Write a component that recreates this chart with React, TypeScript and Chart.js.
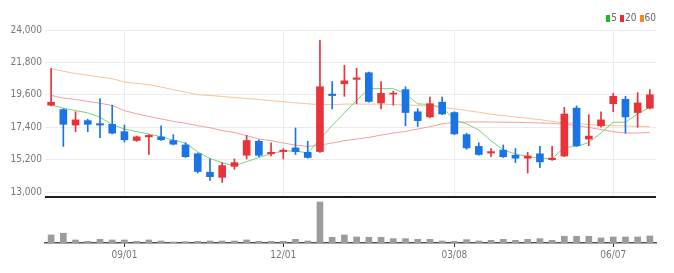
import React, { useEffect, useRef } from 'react';
import { Chart, registerables } from 'chart.js';

Chart.register(...registerables);

const DATES = [
  '07/21', '07/28', '08/04', '08/11', '08/18', '08/25', '09/01', '09/08', '09/15', '09/22',
  '09/29', '10/06', '10/13', '10/20', '10/27', '11/03', '11/10', '11/17', '11/24', '12/01',
  '12/08', '12/15', '12/22', '12/29', '01/05', '01/12', '01/19', '01/26', '02/02', '02/09',
  '02/16', '02/23', '03/01', '03/08', '03/15', '03/22', '03/29', '04/05', '04/12', '04/19',
  '04/26', '05/03', '05/10', '05/17', '05/24', '05/31', '06/07', '06/14', '06/21', '06/28',
];
const X_LABELS = ['09/01', '12/01', '03/08', '06/07'];
const Y_TICKS = [13000, 15200, 17400, 19600, 21800, 24000];

const OPEN = [
  18900, 18600, 17550, 17850, 17650, 17600, 17100, 16500, 16750, 16750,
  16500, 16200, 15600, 14350, 14000, 14750, 15500, 16450, 15600, 15750,
  16000, 15700, 15750, 19650, 20350, 20650, 21100, 19050, 19650, 19950,
  18450, 18100, 19100, 18400, 16900, 16100, 15650, 15850, 15500, 15300,
  15600, 15200, 15450, 18700, 16600, 17500, 19000, 19300, 18400, 18700,
];
const HIGH = [
  21400, 18650, 18450, 17950, 19350, 18900, 17550, 16800, 16900, 17500,
  16900, 16350, 15650, 15250, 15000, 15250, 16850, 16550, 16350, 15950,
  17350, 16450, 23300, 20500, 21600, 21400, 21150, 20500, 19850, 20150,
  18650, 19450, 19450, 18450, 17000, 16350, 15950, 16200, 15950, 15700,
  16100, 16100, 18750, 18850, 18250, 18450, 19700, 19500, 19750, 19950,
];
const LOW = [
  18850, 16100, 17100, 17100, 16700, 16950, 16400, 16450, 15550, 16500,
  16200, 15350, 14300, 13800, 13650, 14550, 15250, 15400, 15450, 15250,
  15550, 15300, 15700, 18650, 19500, 19000, 19100, 18650, 18900, 17500,
  17450, 18050, 18250, 16900, 15900, 15500, 15400, 15350, 15000, 14300,
  14650, 15150, 15400, 16100, 16150, 17400, 18450, 17000, 17400, 18650,
];
const CLOSE = [
  19100, 17600, 17900, 17600, 17550, 17000, 16550, 16750, 16850, 16550,
  16250, 15400, 14400, 14050, 14800, 15000, 16500, 15500, 15700, 15850,
  15750, 15350, 20150, 19550, 20550, 20750, 19150, 19700, 19700, 18400,
  17850, 19000, 18300, 16950, 16000, 15550, 15750, 15400, 15300, 15450,
  15050, 15300, 18300, 16150, 16800, 17900, 19500, 18100, 19050, 19600,
];
const VOLUME = [
  240, 290, 90, 50, 110, 90, 90, 50, 90, 60,
  30, 40, 50, 60, 60, 60, 90, 50, 50, 50,
  110, 60, 1220, 170, 240, 180, 170, 170, 130, 130,
  110, 110, 60, 50, 100, 60, 80, 110, 80, 110,
  130, 80, 200, 200, 200, 150, 180, 180, 180, 210,
];
const MA5 = [
  18920, 18690, 18530, 18380, 18080, 17580, 17280, 17100, 16940, 16760,
  16530, 16330, 15730, 15280, 15000, 14780, 15070, 15340, 15620, 15780,
  15800, 15650, 16600, 17510, 18380, 19220, 20020, 20020, 20020, 19680,
  18990, 18940, 18760, 17900, 17630, 17220, 16490, 15870, 15580, 15410,
  15300, 15280, 16030, 16100, 16370, 17010, 17740, 17740, 18310, 18760,
];
const MA20 = [
  19560, 19380, 19290, 19150, 19030, 18880, 18530, 18310, 18130, 17970,
  17800, 17670, 17510, 17370, 17170, 17050, 16830, 16600, 16490, 16330,
  16190, 16100, 16190, 16330, 16490, 16600, 16710, 16870, 17010, 17120,
  17280, 17440, 17630, 17740, 17760, 17760, 17760, 17740, 17740, 17710,
  17690, 17670, 17600, 17510, 17390, 17240, 17100, 17010, 17010, 17050,
];
const MA60 = [
  21380, 21200, 21040, 20930, 20810, 20700, 20470, 20380, 20290, 20130,
  19950, 19790, 19610, 19560, 19490, 19420, 19350, 19290, 19200, 19130,
  19060, 18990, 18940, 18940, 18970, 18970, 18970, 18970, 18940, 18920,
  18880, 18810, 18740, 18650, 18530, 18420, 18280, 18190, 18100, 18010,
  17920, 17800, 17690, 17650, 17580, 17530, 17510, 17490, 17460, 17440,
];

const MA_LEGEND = [
  { label: '5', color: '#22b822' },
  { label: '20', color: '#ee2a3a' },
  { label: '60', color: '#f08a1c' },
];

const UP = '#e8333b';
const DOWN = '#1a74e6';
const FONT = "'Liberation Sans Narrow', 'DejaVu Sans Condensed', 'Liberation Sans', sans-serif";

// dark separator drawn along the top edge of the volume panel
const topLine = {
  id: 'topLine',
  afterDraw(chart: any) {
    const { ctx, chartArea } = chart;
    ctx.save();
    ctx.fillStyle = '#1e1e1e';
    ctx.fillRect(chartArea.left, 0, chartArea.right - chartArea.left, 2);
    ctx.restore();
  },
};

export default function App() {
  const priceRef = useRef<HTMLCanvasElement>(null);
  const volRef = useRef<HTMLCanvasElement>(null);

  useEffect(() => {
    const colors = OPEN.map((o, i) => (CLOSE[i] >= o ? UP : DOWN));
    const font = { family: FONT, size: 10 };
    const shown = (i: number) => X_LABELS.includes(DATES[i]);

    const price = new Chart(priceRef.current as HTMLCanvasElement, {
      type: 'bar',
      data: {
        labels: DATES,
        datasets: [
          {
            type: 'bar',
            label: 'body',
            data: OPEN.map((o, i) => [o, CLOSE[i]]),
            backgroundColor: colors,
            barThickness: 7,
            grouped: false,
            minBarLength: 1,
            order: 1,
          } as any,
          {
            type: 'bar',
            label: 'wick',
            data: LOW.map((l, i) => [l, HIGH[i]]),
            backgroundColor: colors,
            barThickness: 1,
            grouped: false,
            order: 2,
          } as any,
          {
            type: 'line',
            label: '5',
            data: MA5,
            borderColor: 'rgba(110,205,110,0.9)',
            borderWidth: 1,
            pointRadius: 0,
            tension: 0,
            order: 3,
          } as any,
          {
            type: 'line',
            label: '20',
            data: MA20,
            borderColor: 'rgba(242,150,150,0.9)',
            borderWidth: 1,
            pointRadius: 0,
            tension: 0,
            order: 4,
          } as any,
          {
            type: 'line',
            label: '60',
            data: MA60,
            borderColor: 'rgba(245,190,140,0.9)',
            borderWidth: 1,
            pointRadius: 0,
            tension: 0,
            order: 5,
          } as any,
        ],
      },
      options: {
        animation: false,
        responsive: false,
        maintainAspectRatio: false,
        layout: { padding: { top: 30, right: 18, bottom: 1, left: 0 } },
        plugins: { legend: { display: false }, tooltip: { enabled: false } },
        scales: {
          x: {
            offset: true,
            grid: {
              offset: false,
              drawTicks: false,
              color: (ctx: any) => (shown(ctx.index) ? '#ececec' : 'rgba(0,0,0,0)'),
            },
            ticks: { display: false, autoSkip: false },
            border: { display: false },
          },
          y: {
            min: 12600,
            max: 24000,
            afterBuildTicks: (axis: any) => {
              axis.ticks = Y_TICKS.map((v) => ({ value: v }));
            },
            afterFit: (s: any) => {
              s.width = 45;
            },
            grid: { color: '#ececec', drawTicks: false },
            border: { display: false },
            ticks: {
              font,
              color: '#777',
              padding: 3,
              callback: (v: any) => Number(v).toLocaleString('en-US'),
            },
          },
        },
      } as any,
    });

    const vol = new Chart(volRef.current as HTMLCanvasElement, {
      type: 'bar',
      data: {
        labels: DATES,
        datasets: [
          {
            data: VOLUME,
            backgroundColor: '#9c9c9c',
            barThickness: 6,
          },
        ],
      },
      options: {
        animation: false,
        responsive: false,
        maintainAspectRatio: false,
        layout: { padding: { top: 3, right: 18, bottom: 9, left: 0 } },
        plugins: { legend: { display: false }, tooltip: { enabled: false } },
        scales: {
          x: {
            offset: true,
            grid: {
              offset: false,
              drawOnChartArea: false,
              drawTicks: true,
              tickLength: 4,
              tickColor: (ctx: any) => (shown(ctx.index) ? '#333' : 'rgba(0,0,0,0)'),
            },
            border: { display: true, color: '#555', width: 1.5 },
            ticks: {
              autoSkip: false,
              maxRotation: 0,
              font,
              color: '#777',
              padding: 2,
              callback: (_v: any, i: number) => (shown(i) ? DATES[i] : ''),
            },
          },
          y: {
            min: 0,
            max: 1310,
            grid: { display: false },
            border: { display: false },
            ticks: { display: false },
            afterFit: (s: any) => {
              s.width = 45;
            },
          },
        },
      } as any,
      plugins: [topLine],
    });

    return () => {
      price.destroy();
      vol.destroy();
    };
  }, []);

  return (
    <div
      style={{
        position: 'fixed',
        left: 0,
        top: 0,
        width: 674,
        height: 273,
        background: '#fff',
        overflow: 'hidden',
      }}
    >
      <canvas
        ref={priceRef}
        width={674}
        height={207}
        style={{ position: 'absolute', left: 0, top: 0, width: 674, height: 207 }}
      />
      <canvas
        ref={volRef}
        width={674}
        height={76}
        style={{ position: 'absolute', left: 0, top: 196, width: 674, height: 76 }}
      />
      <div
        style={{
          position: 'absolute',
          right: 18,
          top: 12,
          display: 'flex',
          alignItems: 'center',
          gap: 3,
          fontFamily: FONT,
          fontSize: 10,
          color: '#666',
          lineHeight: '12px',
        }}
      >
        {MA_LEGEND.map((m) => (
          <span key={m.label} style={{ display: 'flex', alignItems: 'center', gap: 1 }}>
            <span style={{ display: 'inline-block', width: 4, height: 7, background: m.color }} />
            <span>{m.label}</span>
          </span>
        ))}
      </div>
    </div>
  );
}
